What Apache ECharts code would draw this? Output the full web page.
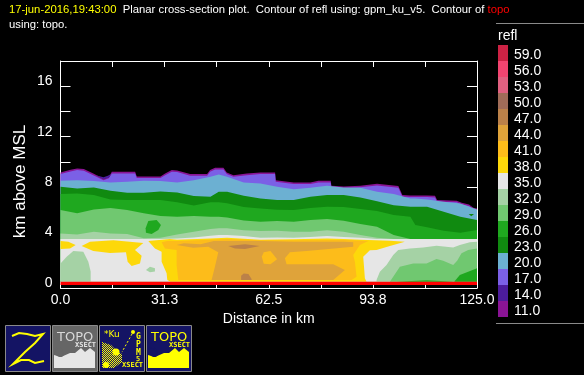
<!DOCTYPE html>
<html><head><meta charset="utf-8">
<style>html,body{margin:0;padding:0;background:#000}#c{width:584px;height:375px}</style>
<script src="https://cdn.jsdelivr.net/npm/echarts@6/dist/echarts.min.js"></script>
</head><body><div id="c"></div>
<script>
// ---- axis and legend values
const xTickKm = [0,15.625,31.25,46.875,62.5,78.125,93.75,109.375,125];
const xLabels = {0:'0.0',31.25:'31.3',62.5:'62.5',93.75:'93.8',125:'125.0'};
const yLabels = [0,4,8,12,16];
const legendLevels = ['59.0','56.0','53.0','50.0','47.0','44.0','41.0','38.0','35.0','32.0','29.0','26.0','23.0','20.0','17.0','14.0','11.0'];
const legendColors = ['#cc2244','#f24470','#e06080','#a06c58','#bb8149','#dfa33a','#fdbc1a','#fdd80a','#e6e6e6','#a5d2a5','#70c870','#1fa81f','#108a10','#6cb0d2','#7b60e6','#4c1c9c','#8a1495'];
const C = {c11:'#8a1495',c14:'#4c1c9c',c17:'#7b60e6',c20:'#6cb0d2',c23:'#108a10',c26:'#1fa81f',c29:'#70c870',c32:'#a5d2a5',c35:'#e6e6e6',c38:'#fdd80a',c41:'#fdbc1a',c44:'#dfa33a',c47:'#bb8149',topo:'#ff0000'};
const baseKm = 0.5;

// ---- echo top (km, altitude)
const topKm = [0,3,5,7,10,11.4,12.9,14.5,15.4,22.4,22.9,30,31.4,33.4,35,38.9,44,44.9,46.4,48.9,49.9,51.9,55.9,60,64.4,64.6,70,75,77.4,81.1,81.3,85,90,95,101.4,102.6,105,110,112.4,113,118.9,120.4,122.6,123.9,125];
const top11 = [9.16,9.37,9.48,9.43,9.06,8.87,8.66,8.79,9.21,9.21,8.85,8.85,9.08,9.35,9.32,9.03,9.03,9.35,9.53,9.53,9.16,8.95,9.08,9.16,9.16,8.55,8.37,8.37,8.50,8.50,8.11,8.05,8.11,8.26,8.08,7.37,7.34,7.34,7.31,6.97,6.92,6.76,6.63,6.36,6.31];
const top17 = [9.03,9.24,9.35,9.30,8.93,8.74,8.55,8.70,9.08,9.08,8.72,8.72,8.95,9.22,9.19,8.90,8.90,9.22,9.40,9.40,9.03,8.82,8.95,9.03,9.03,8.42,8.24,8.24,8.37,8.37,7.98,7.92,7.98,8.13,7.95,7.24,7.21,7.21,7.18,6.84,6.79,6.63,6.50,6.23,6.18];

// ---- band tops on a common set of stations
const bandKm = [0,5,10,15,20,25,30,35,40,45,47.5,50,55,60,65,70,75,80,85,90,95,100,105,106.5,110,115,120,125];
const top20 = [8.50,8.55,8.48,8.37,8.42,8.50,8.48,8.37,8.55,8.82,9.00,8.82,8.37,8.29,8.03,7.84,7.95,8.11,7.97,7.95,7.63,7.45,7.10,7.09,7.02,6.84,6.71,6.23];
const top23 = [8.03,7.89,7.97,7.71,7.55,7.55,7.66,7.58,7.29,7.24,7.63,7.63,7.31,7.10,6.97,6.97,7.24,7.37,7.37,7.18,6.87,6.57,6.44,6.44,6.44,6.05,5.65,5.39];
const top26 = [7.45,7.50,7.37,7.02,6.97,6.97,6.97,6.79,6.55,6.79,6.79,6.73,6.42,6.31,6.20,6.18,6.34,6.44,6.42,6.26,6.10,5.78,5.65,4.99,4.81,4.54,4.38,4.59];
const top29 = [6.18,5.92,6.23,6.34,6.18,5.92,5.70,5.65,5.70,5.65,5.65,5.60,5.36,5.25,5.31,5.25,5.39,5.47,5.33,5.07,4.86,4.20,3.88,3.88,3.88,3.88,3.88,3.88];
const top32 = [4.33,4.25,4.46,4.33,4.28,3.94,3.99,4.25,4.46,4.67,4.73,4.73,4.57,4.52,4.54,4.46,4.46,4.57,4.46,4.20,3.99,3.88,3.88,3.88,3.88,3.88,3.88,3.88];
const top35 = [3.88,3.88,3.88,3.88,3.88,3.88,3.88,3.93,4.01,4.14,4.20,4.20,4.12,3.99,4.01,3.99,4.04,4.12,4.04,3.99,3.88,3.88,3.88,3.88,3.88,3.88,3.88,3.88];

// ---- closed regions, each point is [km, altitude]
const notch14 = [[10.5,8.95],[12.9,8.62],[14.5,8.75],[15.3,9.05],[14.2,8.9],[12.9,8.78],[11.5,8.88]];
const blip23 = [[122.5,5.86],[124.1,5.86],[123.3,5.68]];
const blob26 = [[25.55,4.73],[26.35,5.31],[28.85,5.39],[30.15,4.99],[29.35,4.59],[27.35,4.28],[25.65,4.38]];
const left32 = [[0,1.95],[1.85,2.48],[3.85,2.93],[6.85,2.88],[8.35,2.09],[9.05,1.30],[9.05,0.5],[0,0.5]];
const spot32 = [[25.65,1.43],[26.85,1.69],[28.35,1.56],[28.35,1.30],[26.85,1.24]];
const right32 = [[94.85,0.64],[95.85,1.29],[97.85,1.82],[99.85,2.61],[101.35,3.01],[104.85,3.14],[108.85,3.22],[112.85,3.35],[117.85,3.22],[119.85,3.41],[122.85,3.62],[125,3.67],[125,0.5],[94.85,0.5]];
const right29 = [[98.85,0.5],[99.85,0.9],[101.85,1.69],[105.85,1.95],[109.85,1.95],[112.85,2.30],[114.85,2.17],[117.85,1.82],[119.05,2.17],[120.35,2.75],[122.35,3.01],[125,3.14],[125,0.5]];
const right26 = [[118.15,0.5],[119.85,1.03],[122.35,1.29],[125,1.56],[125,0.5]];
const floor26 = [[100.85,0.5],[110,0.62],[118.15,0.5]];
const yellowA = [[0,3.72],[2.35,3.67],[4.55,3.41],[2.85,3.14],[0,3.09]];
const yellowB = [[6.35,3.33],[8.85,3.67],[15.85,3.78],[24.85,3.57],[22.35,3.01],[24.35,2.56],[23.85,1.95],[21.35,1.74],[20.15,2.09],[19.65,2.83],[14.85,2.77],[9.85,2.93]];
const yellowMain = [[26.35,3.72],[32.8,3.88],[35,3.83],[45,3.93],[50,3.99],[55,3.91],[60,3.83],[70,3.86],[80,3.93],[85,3.88],[90,3.83],[98.85,3.75],[103.35,3.67],[98.85,3.33],[94.85,3.01],[92.85,2.99],[90.85,2.48],[91.05,1.82],[91.35,0.77],[91.85,0.5],[33,0.5],[32.05,0.63],[31.85,1.16],[30.35,2.09],[30.35,2.88],[28.35,3.14]];
const orange41 = [[30.35,3.62],[31.35,3.14],[34.85,3.01],[34.85,1.82],[35.35,0.63],[87.35,0.63],[88.85,0.90],[88.35,2.09],[87.85,2.62],[89.85,3.41],[92.35,3.72],[85,3.80],[70,3.78],[60,3.78],[50,3.88],[45,3.83],[35,3.72],[32,3.72]];
const main44 = [[34.85,3.41],[37,3.55],[42,3.47],[46,3.72],[50,3.72],[60,3.72],[70,3.67],[85,3.67],[87.85,3.62],[87.85,3.27],[73.85,2.93],[68.85,2.83],[67.35,2.35],[67.85,1.88],[81.85,1.88],[85.35,1.43],[81.85,0.63],[45.35,0.63],[46.35,1.69],[47.35,2.83],[44.35,3.27],[39.85,3.20]];
const blob41 = [[60.4,2.48],[61,2.83],[63,2.93],[64,2.62],[65,2.27],[63,1.88],[61,1.93]];
const upper47 = [[50.35,3.33],[55.35,3.46],[59.85,3.33],[55.35,3.09],[52.35,3.14]];
const lower47 = [[54.2,0.98],[55,1.14],[56.4,1.11],[57.2,0.77],[57.4,0.63],[54.2,0.63]];
const topoKm = [0,125];
const topoTop = 0.5, topoBase = 0.24;

const band = (km, alt) => km.map((k,i)=>[k,alt[i]]).concat([[125,baseKm],[0,baseKm]]);
const regions = [
  [band(topKm,top11),C.c11],[band(topKm,top17),C.c17],[notch14,C.c14],
  [band(bandKm,top20),C.c20],[band(bandKm,top23),C.c23],[band(bandKm,top26),C.c26],
  [band(bandKm,top29),C.c29],[band(bandKm,top32),C.c32],[band(bandKm,top35),C.c35],
  [blip23,C.c23],[blob26,C.c26],[left32,C.c32],[spot32,C.c32],
  [right32,C.c32],[right29,C.c29],[right26,C.c26],[floor26,C.c26],
  [yellowA,C.c38],[yellowB,C.c38],[yellowMain,C.c38],[orange41,C.c41],[main44,C.c44],[blob41,C.c41],[upper47,C.c47],[lower47,C.c47],
  [[[topoKm[0],topoTop],[topoKm[1],topoTop],[topoKm[1],topoBase],[topoKm[0],topoBase]],C.topo]
];

const F = '"Liberation Sans"';
const Y='#ffff00';
const checker = (() => {const c=document.createElement('canvas');c.width=c.height=2;const g=c.getContext('2d');
  g.fillStyle='#141464';g.fillRect(0,0,2,2);g.fillStyle=Y;g.fillRect(0,0,1,1);g.fillRect(1,1,1,1);return c;})();
const icon = (x, bg, kids) => ({type:'group',x:x,y:325,silent:true,children:[
  {type:'rect',shape:{x:0.5,y:0.5,width:45,height:46},style:{fill:bg,stroke:'#8a8a8a',lineWidth:1}}
].concat(kids)});
const txt = (x,y,t,fs,col,extra) => ({type:'text',x:x,y:y,style:Object.assign({text:t,font:'bold '+fs+'px "DejaVu Sans Mono"',fill:col},extra||{})});
const ridge = [[2,43],[2,30],[9,32],[18,28],[23,28],[29,23],[33,27],[38,23],[43,27],[43,43]];
const planet = col => ({type:'ellipse',shape:{cx:7,cy:27,rx:5,ry:3.5},rotation:-0.8,originX:7,originY:27,style:{fill:'none',stroke:col,lineWidth:1.5}});
const graphics = [
  {type:'line',shape:{x1:496,y1:23.5,x2:584,y2:23.5},style:{stroke:'#8a8a8a',lineWidth:1},silent:true},
  {type:'line',shape:{x1:496,y1:323.5,x2:584,y2:323.5},style:{stroke:'#8a8a8a',lineWidth:1},silent:true},
  {type:'text',x:498,y:29,silent:true,style:{text:'refl',font:'14px '+F,fill:'#fff'}},
  {type:'text',x:20,y:181.5,rotation:Math.PI/2,silent:true,style:{text:'km above MSL',font:'17px '+F,fill:'#fff',align:'center',verticalAlign:'middle'}},
  icon(5,'#141464',[
    {type:'polyline',shape:{points:[[7,11],[14,8],[22,9],[30,11],[38,9],[30,18],[20,27],[8,39],[16,35],[24,35],[30,38],[39,36]]},style:{fill:'none',stroke:Y,lineWidth:2}}
  ]),
  icon(52,'#666666',[
    txt(5,6,'TOPO',13,'#d8d8d8',{font:'13px "DejaVu Sans"'}),
    txt(23,17,'XSECT',7,'#e6e6e6'),
    {type:'polygon',shape:{points:ridge},style:{fill:'#e6e6e6'}},
    planet('#666666')
  ]),
  icon(99,'#141464',[
    txt(5,5,'*Ku',9,Y,{font:'9px "DejaVu Sans"'}),
    {type:'polygon',shape:{points:[[3,17],[12,20],[17,25],[23,29],[23,37],[15,43],[3,43]]},style:{fill:{image:checker,repeat:'repeat'}}},
    {type:'circle',shape:{cx:17,cy:27,r:3.5},style:{fill:Y}},
    {type:'circle',shape:{cx:7,cy:40,r:3},style:{fill:Y}},
    txt(37,8,'G',8,Y),txt(37,16,'P',8,Y),txt(37,24,'M',8,Y),txt(37,31,'5',7,Y),
    txt(23,37,'XSECT',7,Y),
    {type:'circle',shape:{cx:34,cy:7,r:2},style:{fill:Y}},
    {type:'polyline',shape:{points:[[33,9],[23,27]]},style:{fill:'none',stroke:Y,lineWidth:1,lineDash:[2,2]}}
  ]),
  icon(146,'#141464',[
    txt(5,6,'TOPO',13,Y,{font:'13px "DejaVu Sans"'}),
    txt(23,17,'XSECT',7,Y),
    {type:'polygon',shape:{points:ridge},style:{fill:Y}},
    planet('#141464')
  ])
];

const chart = echarts.init(document.getElementById('c'),null,{renderer:'canvas'});
const axisLine = {show:true,onZero:false,lineStyle:{color:'#fff',width:1}};
chart.setOption({
  animation:false,
  backgroundColor:'#000',
  textStyle:{fontFamily:F},
  title:{left:9,top:2,padding:0,text:'{y|17-jun-2016,19:43:00}  Planar cross-section plot.  Contour of refl using: gpm_ku_v5.  Contour of {r|topo}\nusing: topo.',
    textStyle:{color:'#fff',fontFamily:F,fontSize:11.3,fontWeight:'normal',lineHeight:15,
      rich:{y:{color:'#ffff00',fontFamily:F,fontSize:11.3,lineHeight:15},r:{color:'#ff0000',fontFamily:F,fontSize:11.3,lineHeight:15}}}},
  grid:[{left:60.5,top:61,width:416.5,height:227},{left:498,top:45,width:10,height:272}],
  xAxis:[
    {gridIndex:0,type:'value',min:0,max:125,interval:xTickKm[1],position:'bottom',
     name:'Distance in km',nameLocation:'middle',nameGap:20,nameTextStyle:{color:'#fff',fontSize:14,fontFamily:F},
     axisLine:axisLine,axisTick:{show:true,inside:true,length:6,lineStyle:{color:'#fff'}},splitLine:{show:false},
     axisLabel:{color:'#fff',fontSize:14,margin:5,showMinLabel:true,showMaxLabel:true,formatter:v=>xLabels[v]!==undefined?xLabels[v]:''}},
    {gridIndex:0,type:'value',min:0,max:125,interval:xTickKm[1],position:'top',
     axisLine:axisLine,axisTick:{show:true,inside:true,length:6,lineStyle:{color:'#fff'}},axisLabel:{show:false},splitLine:{show:false}},
    {gridIndex:1,type:'value',min:0,max:1,show:false}
  ],
  yAxis:[
    {gridIndex:0,type:'value',min:0,max:18,interval:2,position:'left',
     axisLine:axisLine,axisTick:{show:true,inside:true,length:10,lineStyle:{color:'#fff'}},splitLine:{show:false},
     axisLabel:{color:'#fff',fontSize:14,margin:8,verticalAlign:'bottom',lineHeight:10,formatter:v=>yLabels.includes(v)?String(v):''}},
    {gridIndex:0,type:'value',min:0,max:18,interval:2,position:'right',
     axisLine:axisLine,axisTick:{show:true,inside:true,length:10,lineStyle:{color:'#fff'}},axisLabel:{show:false},splitLine:{show:false}},
    {gridIndex:1,type:'category',inverse:true,data:legendLevels,position:'right',
     axisLine:{show:false},axisTick:{show:false},
     axisLabel:{color:'#fff',fontSize:14,margin:6,interval:0,verticalAlign:'top',lineHeight:4}}
  ],
  series:[
    {type:'custom',xAxisIndex:0,yAxisIndex:0,silent:true,clip:true,coordinateSystem:'cartesian2d',
     data:regions.map((r,i)=>[i]),encode:{x:[],y:[]},
     renderItem:(p,api)=>{const r=regions[p.dataIndex];
       return {type:'polygon',shape:{points:r[0].map(q=>api.coord(q))},style:{fill:r[1],stroke:null}};}},
    {type:'bar',xAxisIndex:2,yAxisIndex:2,silent:true,barWidth:'100%',animation:false,
     data:legendColors.map(c=>({value:1,itemStyle:{color:c}}))}
  ],
  graphic:graphics
});
</script></body></html>
